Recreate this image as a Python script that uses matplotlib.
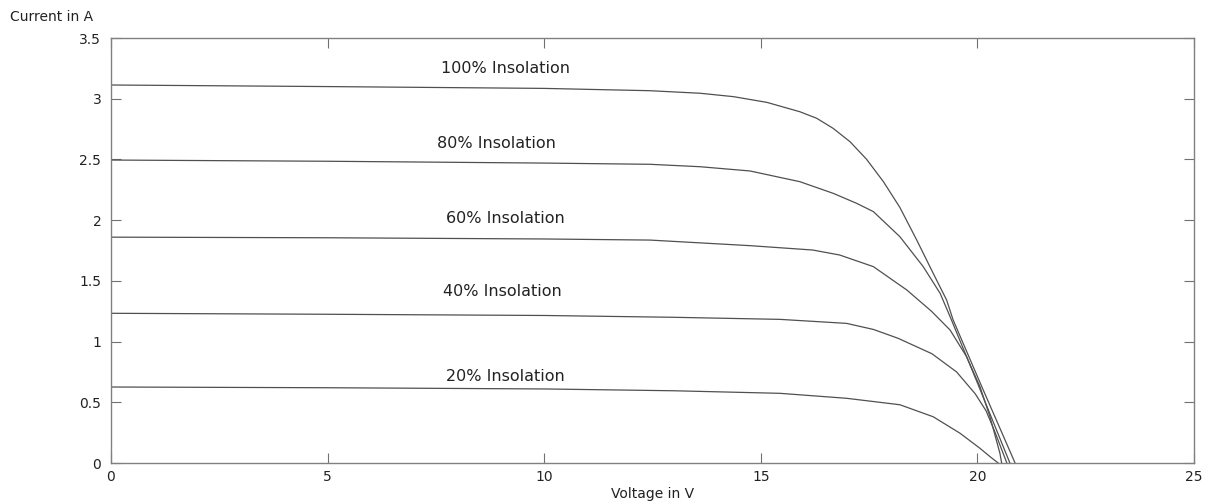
import matplotlib
matplotlib.use("Agg")
import matplotlib.pyplot as plt

# I-V curves (voltage in V, current in A)
v_100 = [0, 5, 10, 12.44, 13.6, 14.37, 15.14, 15.9, 16.29, 16.67, 17.06, 17.44, 17.83, 18.21,
         18.6, 18.98, 19.29, 19.44, 20.1, 20.87]
i_100 = [3.113, 3.10, 3.085, 3.066, 3.045, 3.017, 2.97, 2.893, 2.839, 2.756, 2.646, 2.502, 2.317, 2.105,
         1.836, 1.562, 1.342, 1.178, 0.63, 0.0]

v_80 = [0, 5, 10, 12.44, 13.6, 14.75, 15.9, 16.67, 17.21, 17.6, 18.21, 18.75, 19.14, 19.37, 20.0, 20.75]
i_80 = [2.495, 2.485, 2.47, 2.46, 2.44, 2.405, 2.317, 2.221, 2.139, 2.07, 1.864, 1.617, 1.397, 1.205, 0.66, 0.0]

v_60 = [0, 5, 10, 12.44, 14.75, 16.2, 16.82, 17.6, 18.37, 18.94, 19.37, 19.75, 20.06, 20.29, 20.52, 20.56]
i_60 = [1.86, 1.855, 1.845, 1.836, 1.79, 1.754, 1.713, 1.617, 1.425, 1.25, 1.095, 0.876, 0.628, 0.381, 0.08, 0.0]

v_40 = [0, 5, 10, 13.0, 15.44, 16.98, 17.6, 18.17, 18.95, 19.52, 19.95, 20.2, 20.4, 20.68]
i_40 = [1.233, 1.225, 1.215, 1.20, 1.183, 1.15, 1.10, 1.027, 0.90, 0.75, 0.57, 0.43, 0.26, 0.0]

v_20 = [0, 5, 10, 13.0, 15.44, 16.98, 18.21, 18.98, 19.6, 20.06, 20.3, 20.48]
i_20 = [0.626, 0.62, 0.61, 0.595, 0.574, 0.533, 0.48, 0.381, 0.245, 0.121, 0.05, 0.0]

labels = ['100% Insolation', '80% Insolation', '60% Insolation', '40% Insolation', '20% Insolation']
label_x = [9.1, 8.9, 9.1, 9.03, 9.1]
label_y = [3.25, 2.635, 2.01, 1.41, 0.71]

x_ticks = [0, 5, 10, 15, 20, 25]
y_ticks = [0, 0.5, 1, 1.5, 2, 2.5, 3, 3.5]
y_ticklabels = ['0', '0.5', '1', '1.5', '2', '2.5', '3', '3.5']

fig = plt.figure(figsize=(12.17, 5.04), dpi=100)
ax = fig.add_axes([0.0912, 0.0813, 0.8899, 0.8433])

curves = [(v_100, i_100), (v_80, i_80), (v_60, i_60), (v_40, i_40), (v_20, i_20)]
for v, i in curves:
    ax.plot(v, i, color='#505050', lw=0.9)

for txt, x, y in zip(labels, label_x, label_y):
    ax.text(x, y, txt, ha='center', va='center', fontsize=11.5, color='#222222')

ax.set_xlim(0, 25)
ax.set_ylim(0, 3.5)
ax.set_xticks(x_ticks)
ax.set_yticks(y_ticks)
ax.set_yticklabels(y_ticklabels)
ax.tick_params(direction='in', length=7, width=0.8, color='#707070',
               top=True, right=True, labelsize=10, labelcolor='#222222')
ax.tick_params(axis='x', pad=5)
ax.tick_params(axis='y', pad=7)
for s in ax.spines.values():
    s.set_color('#808080')
    s.set_linewidth(1.0)

fig.text(0.008, 0.966, 'Current in A', fontsize=10, color='#222222', ha='left', va='center')
fig.text(0.536, 0.02, 'Voltage in V', fontsize=10, color='#222222', ha='center', va='center')

fig.savefig('out.png', dpi=100)
